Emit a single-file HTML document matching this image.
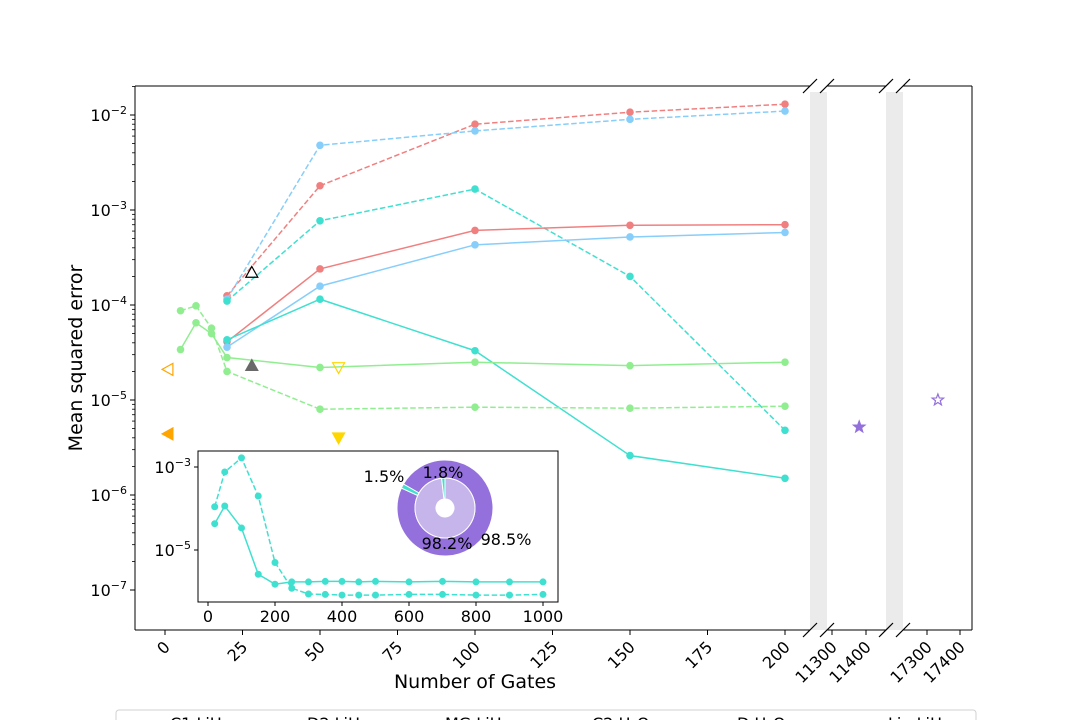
<!DOCTYPE html>
<html><head><meta charset="utf-8"><style>
body{margin:0;background:#fff}
svg{display:block;font-family:"DejaVu Sans","Liberation Sans",sans-serif}
</style></head><body>
<svg id="c" width="1080" height="720" viewBox="0 0 1080 720" xmlns="http://www.w3.org/2000/svg"></svg>
<script>
const gates=[20,50,100,150,200];
const redDashed=[1.25e-4,1.8e-3,8e-3,1.07e-2,1.3e-2];
const blueDashed=[1.15e-4,4.8e-3,6.8e-3,9e-3,1.1e-2];
const tealDashed=[1.1e-4,7.7e-4,1.66e-3,2e-4,4.8e-6];
const redSolid=[4.1e-5,2.4e-4,6.1e-4,6.9e-4,7e-4];
const blueSolid=[3.6e-5,1.58e-4,4.3e-4,5.2e-4,5.8e-4];
const tealSolid=[4.3e-5,1.15e-4,3.3e-5,2.6e-6,1.5e-6];
const greenGates=[5,10,15,20,50,100,150,200];
const greenSolid=[3.4e-5,6.5e-5,5e-5,2.8e-5,2.2e-5,2.5e-5,2.3e-5,2.5e-5];
const greenDashed=[8.7e-5,9.8e-5,5.7e-5,2e-5,8e-6,8.4e-6,8.2e-6,8.6e-6];
const insetGates=[20,50,100,150,200,250,300,350,400,450,500,600,700,800,900,1000];
const insetSolid=[4.3e-5,1.15e-4,3.4e-5,2.6e-6,1.5e-6,1.7e-6,1.7e-6,1.75e-6,1.75e-6,1.7e-6,1.75e-6,1.7e-6,1.75e-6,1.7e-6,1.7e-6,1.7e-6];
const insetDashed=[1.1e-4,7.6e-4,1.66e-3,2e-4,5e-6,1.2e-6,8.7e-7,8.5e-7,8.2e-7,8.2e-7,8.2e-7,8.5e-7,8.5e-7,8.2e-7,8.2e-7,8.5e-7];
const xTicks1=[0,25,50,75,100,125,150,175,200];
const xTicks2=[11300,11400];
const xTicks3=[17300,17400];
const yTickExp=[-2,-3,-4,-5,-6,-7];
const insetXTicks=[0,200,400,600,800,1000];
const insetYExp=[-3,-5];
const pieOuter=[98.5,1.5];
const pieInner=[98.2,1.8];
const legendLabels=["C1 LiH","D2 LiH","MG LiH","C2 H\u2082O","D H\u2082O","Lin LiH"];

const S=document.getElementById('c');const NS='http://www.w3.org/2000/svg';
function el(t,a,p){const e=document.createElementNS(NS,t);for(const k in a)e.setAttribute(k,a[k]);(p||S).appendChild(e);return e;}
function x(v){if(v<1000)return 165+v*3.1;if(v<15000)return 832+(v-11300)*0.34;return 927+(v-17300)*0.33;}
function y(v){return 210-(Math.log10(v)+3)*95;}
function ix(v){return 208+v*0.335;}
function iy(v){return 467-(Math.log10(v)+3)*41.5;}
const T=86,B=630;
[[810,827],[886,903]].forEach(b=>{const r=el('rect',{x:b[0],y:T+6,width:b[1]-b[0],height:B-T-6,fill:'#ebebeb'});});
[[135,810],[827,886],[903,972]].forEach(s=>{
 el('line',{x1:s[0],y1:T,x2:s[1],y2:T,stroke:'#000','stroke-width':1});
 el('line',{x1:s[0],y1:B,x2:s[1],y2:B,stroke:'#000','stroke-width':1});
});
el('line',{x1:135,y1:T,x2:135,y2:B,stroke:'#000'});
el('line',{x1:972,y1:T,x2:972,y2:B,stroke:'#000'});
[810,827,886,903].forEach(bx=>{[T,B].forEach(by=>{el('line',{x1:bx-7,y1:by+7,x2:bx+7,y2:by-7,stroke:'#000','stroke-width':1.2});});});
yTickExp.forEach(e=>{const yy=y(Math.pow(10,e));el('line',{x1:130,y1:yy,x2:135,y2:yy,stroke:'#000'});
 const t=el('text',{x:127,y:yy+6,'text-anchor':'end','font-size':16});
 t.innerHTML='10<tspan dy="-7" font-size="11">\u2212'+(-e)+'</tspan>';
 for(let m=2;m<10;m++){const my=y(m*Math.pow(10,e));if(my>T&&my<B)el('line',{x1:132,y1:my,x2:135,y2:my,stroke:'#000','stroke-width':0.8});}
});
function xt(v){const xx=x(v);el('line',{x1:xx,y1:B,x2:xx,y2:B+5,stroke:'#000'});
 const t=el('text',{x:xx+6,y:B+18,'text-anchor':'end','font-size':16,transform:'rotate(-45 '+(xx+6)+' '+(B+18)+')'});t.textContent=v;}
xTicks1.forEach(xt);xTicks2.forEach(xt);xTicks3.forEach(xt);
let t=el('text',{x:475,y:688,'text-anchor':'middle','font-size':19});t.textContent='Number of Gates';
t=el('text',{x:82,y:358,'text-anchor':'middle','font-size':19,transform:'rotate(-90 82 358)'});t.textContent='Mean squared error';
function series(xs,ys,col,dash,name,fx,fy,r,par){const g=el('g',{},par);
 el('polyline',{points:xs.map((v,i)=>fx(v)+','+fy(ys[i])).join(' '),fill:'none',stroke:col,'stroke-width':1.5,'stroke-dasharray':dash?'5.5,2.5':'none'},g);
 xs.forEach((v,i)=>el('circle',{cx:fx(v),cy:fy(ys[i]),r:r,fill:col},g));}
series(gates,redDashed,'#F08080',1,'series-red-dashed',x,y,3.8);
series(gates,blueDashed,'#87CEFA',1,'series-blue-dashed',x,y,3.8);
series(gates,tealDashed,'#40E0D0',1,'series-teal-dashed',x,y,3.8);
series(gates,redSolid,'#F08080',0,'series-red-solid',x,y,3.8);
series(gates,blueSolid,'#87CEFA',0,'series-blue-solid',x,y,3.8);
series(gates,tealSolid,'#40E0D0',0,'series-teal-solid',x,y,3.8);
series(greenGates,greenSolid,'#90EE90',0,'series-green-solid',x,y,3.8);
series(greenGates,greenDashed,'#90EE90',1,'series-green-dashed',x,y,3.8);
const markerX=[1,1,28,28,56,56,11380,17333];
const markerY=[2.1e-5,4.4e-6,2.2e-4,2.3e-5,2.2e-5,4e-6,5.2e-6,1e-5];
const markerKind=['L','L','U','U','D','D','S','S'];
const markerFill=['none','#FFA500','none','#696969','none','#FFD700','#9370DB','none'];
const markerStroke=['#FFA500','#FFA500','#000','#696969','#FFD700','#FFD700','#9370DB','#9370DB'];
markerX.forEach((v,i)=>{const cx=x(v),cy=y(markerY[i]);let pts;const s=6;
 if(markerKind[i]=='L')pts=[[cx-s,cy],[cx+s*0.8,cy-s],[cx+s*0.8,cy+s]];
 else if(markerKind[i]=='U')pts=[[cx,cy-s],[cx-s,cy+s*0.8],[cx+s,cy+s*0.8]];
 else if(markerKind[i]=='D')pts=[[cx,cy+s],[cx-s,cy-s*0.8],[cx+s,cy-s*0.8]];
 else{pts=[];for(let k=0;k<10;k++){const rr=k%2?2.5:6,a=-Math.PI/2+k*Math.PI/5;pts.push([cx+rr*Math.cos(a),cy+rr*Math.sin(a)]);}}
 const p=el('polygon',{points:pts.map(q=>q.join(',')).join(' '),fill:markerFill[i],stroke:markerStroke[i],'stroke-width':1.2});
 });
const ig=el('g',{});
el('rect',{x:198,y:451,width:360,height:151,fill:'#fff',stroke:'#000'},ig);
insetXTicks.forEach(v=>{const xx=ix(v);el('line',{x1:xx,y1:602,x2:xx,y2:606,stroke:'#000'},ig);const tt=el('text',{x:xx,y:622,'text-anchor':'middle','font-size':16},ig);tt.textContent=v;});
insetYExp.forEach(e=>{const yy=iy(Math.pow(10,e));el('line',{x1:194,y1:yy,x2:198,y2:yy,stroke:'#000'},ig);const tt=el('text',{x:191,y:yy+6,'text-anchor':'end','font-size':16},ig);tt.innerHTML='10<tspan dy="-7" font-size="11">\u2212'+(-e)+'</tspan>';});
series(insetGates,insetDashed,'#40E0D0',1,'inset-teal-dashed',ix,iy,3.5,ig);
series(insetGates,insetSolid,'#40E0D0',0,'inset-teal-solid',ix,iy,3.5,ig);
const pcx=445,pcy=508;
function ring(vals,cols,r0,r1,start,name){const g=el('g',{},ig);
 const tot=vals.reduce((a,b)=>a+b,0);let a=start;vals.forEach((v,i)=>{const a2=a+v/tot*360;const r=d=>d*Math.PI/180;
 const p=(rr,d)=>[pcx+rr*Math.cos(r(d)),pcy-rr*Math.sin(r(d))];const lg=(a2-a)>180?1:0;
 const A=p(r1,a),Bp=p(r1,a2),C=p(r0,a2),D=p(r0,a);
 el('path',{d:`M${A}A${r1},${r1} 0 ${lg} 0 ${Bp}L${C}A${r0},${r0} 0 ${lg} 1 ${D}Z`,fill:cols[i],stroke:'#fff','stroke-width':1},g);a=a2;});}
ring(pieOuter,['#9370DB','#40E0D0'],30,48,155.4,'pie-outer-ring');
ring(pieInner,['#C5B5EB','#40E0D0'],9,30,96.5,'pie-inner-ring');
[['1.5%',384,482],['1.8%',443,478],['98.2%',447,549],['98.5%',506,545]].forEach(l=>{const tt=el('text',{x:l[1],y:l[2],'text-anchor':'middle','font-size':16},ig);tt.textContent=l[0];});
const lg=el('g',{});
el('rect',{x:116,y:710,width:860,height:20,rx:3,fill:'#fff',stroke:'#d0d0d0'},lg);
const legX=[170,307,445,592,737,888];
legendLabels.forEach((l,i)=>{const tt=el('text',{x:legX[i],y:729,'font-size':16},lg);tt.textContent=l;});
</script>
</body></html>
